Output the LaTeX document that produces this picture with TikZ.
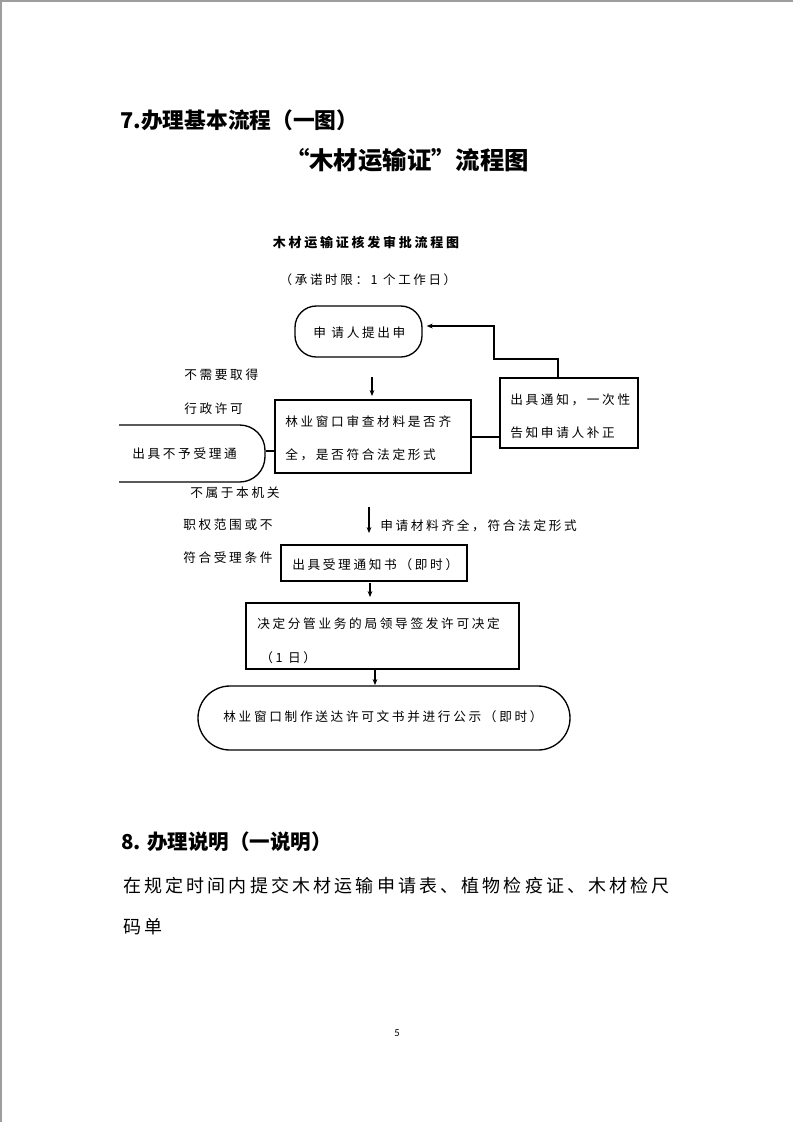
\documentclass[tikz,border=0pt]{standalone}
\usepackage{fontspec}
\setmainfont{Noto Sans CJK SC}
\newfontfamily\cjk{Noto Sans CJK SC}
\newfontfamily\flowfont{Noto Sans CJK SC}[LetterSpace=21]
\newfontfamily\flowtitlefont{Noto Sans CJK SC}[LetterSpace=21]
\newfontfamily\bodyfont{Noto Sans CJK SC}[LetterSpace=17.5]
\newfontfamily\numfont{Carlito}
\usetikzlibrary{fit,arrows.meta}
\begin{document}
\begin{tikzpicture}[x=0.75pt,y=-0.75pt,
  box/.style={draw,line width=1pt,inner sep=0pt},
  rbox/.style={box,rounded corners=16pt},
  lbl/.style={inner sep=0pt,anchor=west,font=\flowfont\fontsize{9.5pt}{11pt}\selectfont},
  arr/.style={line width=1pt,-{Stealth[length=4.5pt,width=3.6pt]}},
  conn/.style={line width=1pt},
  head/.style={inner sep=0pt,anchor=west,font=\cjk\bfseries\fontsize{15.4pt}{18pt}\selectfont}]
\useasboundingbox (0,0) rectangle (793,1122);
\fill[white] (0,0) rectangle (793,1122);
\draw[black!38,line width=1.5pt] (1,1122) -- (1,1) -- (793,1);

% headings
\node[head,font=\cjk\bfseries\fontsize{16.3pt}{19pt}\selectfont] (h7) at (120,120) {7.办理基本流程（一图）};
\node[inner sep=0pt,font=\cjk\bfseries\fontsize{18.3pt}{21pt}\selectfont] (h2) at (407,160) {“木材运输证”流程图};

% flowchart title
\node[inner sep=0pt,font=\flowtitlefont\bfseries\fontsize{9.75pt}{12pt}\selectfont] (ftitle) at (366,243) {木材运输证核发审批流程图};
\node[inner sep=0pt,font=\flowfont\fontsize{9.4pt}{11pt}\selectfont] (fsub) at (368,280) {（承诺时限：1 个工作日）};

% start
\node[rbox,fit={(295,306)(422,357)}] (start) {};
\node[lbl] (starttxt) at (313,333) {申 请人提出申};

% main check
\node[box,fit={(275,400)(471,473)}] (main) {};
\node[lbl] (main1) at (285,422) {林业窗口审查材料是否齐};
\node[lbl] (main2) at (285,455) {全，是否符合法定形式};

% notice box
\node[box,fit={(500,378)(638,448)}] (notice) {};
\node[lbl] (not1) at (510,400) {出具通知，一次性};
\node[lbl] (not2) at (510,433) {告知申请人补正};

% reject box (clipped at left)
\begin{scope}
\clip (119,0) rectangle (793,1122);
\node[box,rounded corners=19pt,fit={(88,425)(265,482)}] (reject) {};
\end{scope}
\node[lbl] (rejtxt) at (132,454) {出具不予受理通};

% side labels
\node[lbl] (s1) at (184,375) {不需要取得};
\node[lbl] (s2) at (184,409) {行政许可};
\node[lbl] (s3) at (190,493) {不属于本机关};
\node[lbl] (s4) at (183,525) {职权范围或不};
\node[lbl] (s5) at (183,558) {符合受理条件};

% accept
\node[box,fit={(281,545)(467,581)}] (accept) {};
\node[lbl] (acctxt) at (292,565) {出具受理通知书（即时）};

% decision
\node[box,fit={(246,603)(519,669)}] (decide) {};
\node[lbl] (dec1) at (257,624) {决定分管业务的局领导签发许可决定};
\node[lbl] (dec2) at (260,658) {（1 日）};

% final
\node[box,rounded corners=24pt,fit={(198,686)(570,750)}] (final) {};
\node[inner sep=0pt,font=\flowfont\fontsize{9.5pt}{11pt}\selectfont] (fintxt) at (383,717) {林业窗口制作送达许可文书并进行公示（即时）};

% connectors
\coordinate (a1s) at (372,377); \coordinate (a1e) at (372,396);
\draw[arr] (a1s) -- (a1e);
\coordinate (a2s) at (369,507); \coordinate (a2e) at (369,533);
\draw[arr] (a2s) -- (a2e);
\node[lbl] (a2lbl) at (380,526) {申请材料齐全，符合法定形式};
\coordinate (a3s) at (370,583); \coordinate (a3e) at (370,597);
\draw[arr] (a3s) -- (a3e);
\coordinate (a4s) at (375,670); \coordinate (a4e) at (375,685);
\draw[arr] (a4s) -- (a4e);

\draw[conn] (reject.east |- 0,451) -- (main.west |- 0,451);
\draw[conn] (main.east |- 0,437) -- (notice.west |- 0,437);
\coordinate (fbA) at (558,359);
\coordinate (fbB) at (494,326);
\draw[arr,shorten >=3pt] (fbA |- notice.north) -- (fbA) -| (fbB) -- (fbB -| start.east);

% section 8
\node[head] (h8) at (121,842) {8. 办理说明（一说明）};
\node[inner sep=0pt,anchor=west,font=\bodyfont\fontsize{13.5pt}{17pt}\selectfont] (body1) at (123,886) {在规定时间内提交木材运输申请表、植物检疫证、木材检尺};
\node[inner sep=0pt,anchor=west,font=\bodyfont\fontsize{13.5pt}{17pt}\selectfont] (body2) at (123,927) {码单};

\node[inner sep=0pt,font=\numfont\fontsize{8pt}{10pt}\selectfont] (pgnum) at (397,1033) {5};
\end{tikzpicture}
\end{document}
